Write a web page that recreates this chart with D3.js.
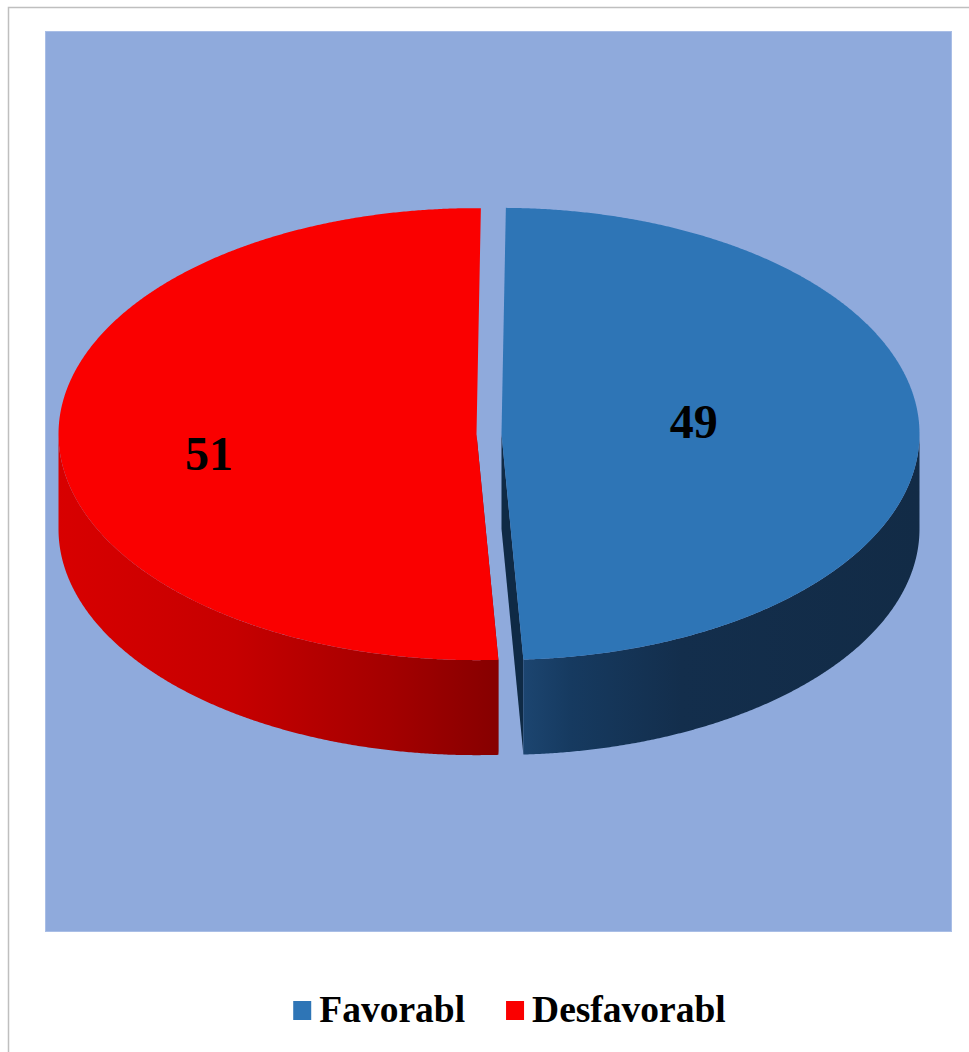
<!DOCTYPE html>
<html><head><meta charset="utf-8">
<script src="https://cdn.jsdelivr.net/npm/d3@7"></script>
<style>html,body{margin:0;padding:0;background:#fff;overflow:hidden;} svg{display:block;}</style>
</head><body>
<script>
// ---- data ----
const categories = ["Favorabl", "Desfavorabl"];
const values = [49, 51];
const dataLabels = ["49", "51"];

// ---- styling / layout ----
const topColors = ["#2E75B6", "#FA0000"];
const wallStops = [
  [["0", "#1C4570"], ["0.12", "#163A60"], ["0.4", "#132E4C"], ["1", "#122B46"]],
  [["0", "#D80000"], ["0.4", "#C60000"], ["0.75", "#A40000"], ["1", "#860000"]]
];
const innerColors = ["#0F2A45", "#7A0000"];
const labelPlacement = [{r: 0.46, dy: -10}, {r: 0.64, dy: 16}];

const W = 969, H = 1052;
const svg = d3.select("body").append("svg").attr("width", W).attr("height", H);

svg.append("rect").attr("x", 8.5).attr("y", 7.5).attr("width", W + 20).attr("height", H + 20)
  .attr("fill", "#fff").attr("stroke", "#BFBFBF").attr("stroke-width", 1.5);
svg.append("rect").attr("x", 45.5).attr("y", 31.5).attr("width", 906).attr("height", 900)
  .attr("fill", "#8FAADC").attr("stroke", "#A9BEE6").attr("stroke-width", 1);

const cx = 489, cy = 434, rx = 418, ry = 226, depth = 95, explode = 12.5;
const rot = 0.6 * Math.PI / 180;
const pie = d3.pie().sort(null).startAngle(rot).endAngle(rot + 2 * Math.PI);
const arcs = pie(values);

const defs = svg.append("defs");
const line = d3.line();

arcs.forEach((d, i) => {
  const mid = (d.startAngle + d.endAngle) / 2;
  d.ox = explode * Math.sin(mid);
  d.oy = -explode * Math.cos(mid) * (ry / rx);
  d.i = i;
});

function P(d, a, z) {
  return [cx + d.ox + rx * Math.sin(a), cy + d.oy - ry * Math.cos(a) + z];
}
function C(d, z) { return [cx + d.ox, cy + d.oy + z]; }
function arcPts(d, a0, a1, z) {
  const n = Math.max(2, Math.ceil(Math.abs(a1 - a0) / 0.005));
  return d3.range(n + 1).map(k => P(d, a0 + (a1 - a0) * k / n, z));
}

const g = svg.append("g");

// inner (cut) faces, front edges only
arcs.forEach(d => {
  [d.startAngle, d.endAngle].forEach(a => {
    if (Math.cos(a) > 0) return;
    g.append("path")
      .attr("d", line([C(d, 0), P(d, a, 0), P(d, a, depth), C(d, depth)]) + "Z")
      .attr("fill", innerColors[d.i]);
  });
});

// outer walls (front half only)
arcs.forEach(d => {
  const s = Math.max(d.startAngle, Math.PI / 2);
  const e = Math.min(d.endAngle, 3 * Math.PI / 2);
  if (e <= s) return;
  const top = arcPts(d, s, e, 0);
  const bot = arcPts(d, e, s, depth);
  const xs = top.map(p => p[0]);
  const gid = "wall" + d.i;
  const grad = defs.append("linearGradient").attr("id", gid)
    .attr("gradientUnits", "userSpaceOnUse")
    .attr("x1", d3.min(xs)).attr("x2", d3.max(xs))
    .attr("y1", 0).attr("y2", 0);
  wallStops[d.i].forEach(st => grad.append("stop").attr("offset", st[0]).attr("stop-color", st[1]));
  g.append("path").attr("d", line(top.concat(bot)) + "Z").attr("fill", "url(#" + gid + ")");
});

// tops
arcs.forEach(d => {
  g.append("path")
    .attr("d", line([C(d, 0)].concat(arcPts(d, d.startAngle, d.endAngle, 0))) + "Z")
    .attr("fill", topColors[d.i]);
});

// data labels
arcs.forEach(d => {
  const mid = (d.startAngle + d.endAngle) / 2;
  const lp = labelPlacement[d.i];
  g.append("text")
    .attr("x", cx + d.ox + lp.r * rx * Math.sin(mid))
    .attr("y", cy + d.oy - lp.r * ry * Math.cos(mid) + lp.dy)
    .attr("dy", "0.35em")
    .attr("text-anchor", "middle")
    .attr("font-family", "'Liberation Serif', 'Times New Roman', serif")
    .attr("font-weight", "bold")
    .attr("font-size", 48)
    .attr("fill", "#000")
    .text(dataLabels[d.i]);
});

// legend
const lg = svg.append("g");
let x = 0;
categories.forEach((c, i) => {
  lg.append("rect").attr("x", x).attr("y", -21).attr("width", 18).attr("height", 19).attr("fill", topColors[i]);
  x += 26;
  const t = lg.append("text").attr("x", x).attr("y", 0)
    .attr("font-family", "'Liberation Serif', 'Times New Roman', serif")
    .attr("font-weight", "bold").attr("font-size", 37.5).attr("fill", "#000").text(c);
  x += t.node().getComputedTextLength() + 41;
});
const totalW = x - 41;
lg.attr("transform", `translate(${509.5 - totalW / 2},1022)`);
</script>
</body></html>
